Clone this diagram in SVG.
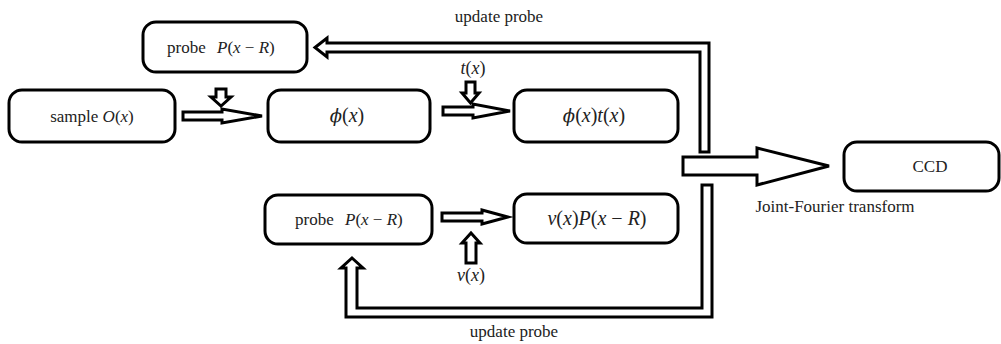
<svg xmlns="http://www.w3.org/2000/svg" width="1001" height="344" viewBox="0 0 1001 344">
  <style>
    .box { fill: #fff; stroke: #000; stroke-width: 3; }
    .arrow { fill: #fff; stroke: #000; stroke-width: 3; stroke-linejoin: miter; }
    .lbl { font-family: "Liberation Serif", "Times New Roman", serif; font-size: 17px; fill: #222; }
    .math { font-family: "Liberation Serif", "Times New Roman", serif; font-size: 20px; fill: #222; }
    .i { font-style: italic; }
    .phi { font-family: "DejaVu Serif", serif; font-style: italic; font-size: 18px; fill: #222; }
  </style>

  <rect width="1001" height="344" fill="#fff"/>

  <!-- connectors: hollow block arrows -->
  <g id="connectors">
    <!-- update probe (top feedback) -->
    <polygon class="arrow" points="315,47.5 327,38 327,43 709,43 709,152 700,152 700,52 327,52 327,57"/>
    <!-- update probe (bottom feedback) -->
    <polygon class="arrow" points="352,258 363,268 357,268 357,308 702,308 702,185 712,185 712,317 346,317 346,268 341,268"/>
    <!-- probe into exit wave -->
    <polygon class="arrow" points="216,89 226,89 226,97 231,97 221,106 211,97 216,97"/>
    <!-- sample to phi -->
    <polygon class="arrow" points="183,112 222,112 222,109 262,116 222,123 222,120 183,120"/>
    <!-- t(x) input -->
    <polygon class="arrow" points="466,82 475,82 475,93 479,93 470.5,103 462,93 466,93"/>
    <!-- phi to phi*t -->
    <polygon class="arrow" points="443,107 473,107 473,104 510,111 473,118 473,115 443,115"/>
    <!-- joint Fourier transform to CCD -->
    <polygon class="arrow" points="683,157 757,157 757,148 829,166 757,185 757,175 683,175"/>
    <!-- probe to v(x)P -->
    <polygon class="arrow" points="442,213 482,213 482,210 508,217 482,224 482,221 442,221"/>
    <!-- v(x) input -->
    <polygon class="arrow" points="471,233 480,243 476,243 476,263 466,263 466,243 462,243"/>
  </g>

  <g id="probe-top">
    <rect class="box" x="143" y="22" width="164" height="50" rx="13"/>
    <text class="lbl" x="167" y="53">probe<tspan x="217" class="i">P</tspan>(<tspan class="i">x</tspan> − <tspan class="i">R</tspan>)</text>
  </g>

  <g id="sample">
    <rect class="box" x="9" y="90" width="166" height="52" rx="13"/>
    <text class="lbl" x="92" y="122" text-anchor="middle">sample <tspan class="i">O</tspan>(<tspan class="i">x</tspan>)</text>
  </g>

  <g id="phi">
    <rect class="box" x="268" y="90" width="162" height="52" rx="13"/>
    <text class="math" x="347" y="122" text-anchor="middle"><tspan class="phi">ϕ</tspan>(<tspan class="i">x</tspan>)</text>
  </g>

  <g id="phi-t">
    <rect class="box" x="514" y="90" width="164" height="52" rx="13"/>
    <text class="math" x="594" y="122" text-anchor="middle"><tspan class="phi">ϕ</tspan>(<tspan class="i">x</tspan>)<tspan class="i">t</tspan>(<tspan class="i">x</tspan>)</text>
  </g>

  <g id="probe-bottom">
    <rect class="box" x="265" y="195" width="167" height="49" rx="13"/>
    <text class="lbl" x="295" y="225">probe<tspan x="345" class="i">P</tspan>(<tspan class="i">x</tspan> − <tspan class="i">R</tspan>)</text>
  </g>

  <g id="v-p">
    <rect class="box" x="514" y="194" width="164" height="49" rx="13"/>
    <text class="math" x="597" y="225" text-anchor="middle"><tspan class="i">v</tspan>(<tspan class="i">x</tspan>)<tspan class="i">P</tspan>(<tspan class="i">x</tspan> − <tspan class="i">R</tspan>)</text>
  </g>

  <g id="ccd">
    <rect class="box" x="844" y="142" width="155" height="49" rx="13"/>
    <text class="lbl" x="930" y="172" text-anchor="middle">CCD</text>
  </g>

  <g id="labels">
    <text class="lbl" x="499" y="22" text-anchor="middle">update probe</text>
    <text class="lbl" x="514" y="337" text-anchor="middle">update probe</text>
    <text class="lbl" x="835" y="212" text-anchor="middle">Joint-Fourier transform</text>
    <text class="lbl" x="473" y="74" text-anchor="middle" style="font-size:18px"><tspan class="i">t</tspan>(<tspan class="i">x</tspan>)</text>
    <text class="lbl" x="471" y="281" text-anchor="middle" style="font-size:18px"><tspan class="i">v</tspan>(<tspan class="i">x</tspan>)</text>
  </g>
</svg>
